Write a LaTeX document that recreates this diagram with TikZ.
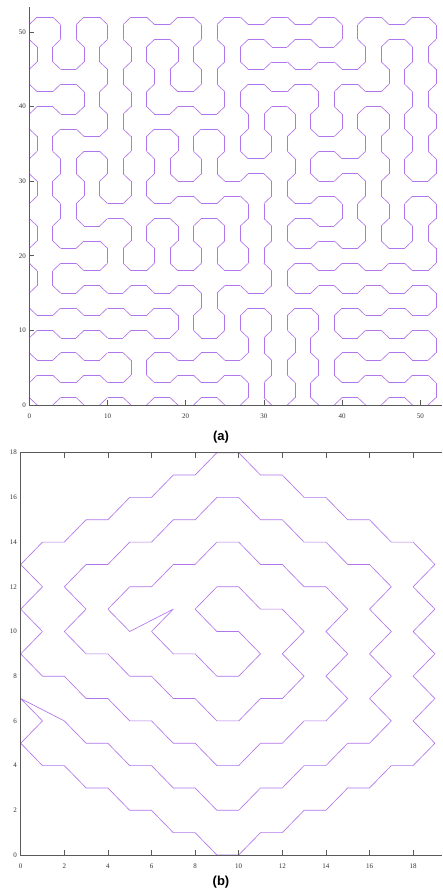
\documentclass[tikz,border=0pt]{standalone}
\usepackage{fontspec}
\setmainfont{Liberation Serif}
\newfontfamily\labfont{Liberation Sans}
\definecolor{curve}{RGB}{178,118,236}
\definecolor{axisc}{RGB}{90,90,90}
\begin{document}
\begin{tikzpicture}[x=1pt,y=-1pt,
  curvest/.style={draw=curve, line width=0.65pt, line join=round},
  axisline/.style={draw=axisc, line width=0.8pt},
  ticklab/.style={font=\fontsize{7}{7}\selectfont, text=black!80, inner sep=0pt},
  panellab/.style={font=\labfont\bfseries\fontsize{13}{13}\selectfont, inner sep=0pt}]
\useasboundingbox (0,0) rectangle (442,894);
\fill[white] (0,0) rectangle (442,894);

% ---------------- plot (a) ----------------
\begin{scope}[xshift=29.3pt, yshift=-405pt, x=7.82pt, y=7.46pt]
 % one diagonal per cell
 \foreach \i in {0,...,17}{\foreach \j in {0,...,17}{
   \pgfmathtruncatemacro\p{mod(\i+\j,2)}
   \ifnum\p=0 \draw[curvest] (3*\i,3*\j+1) -- (3*\i+1,3*\j);
   \else \draw[curvest] (3*\i,3*\j) -- (3*\i+1,3*\j+1); \fi
 }}
 % horizontal links (i,j)-(i+1,j), listed per row j
 \foreach \j/\L in {17/{0,2,4,5,6,8,9,10,11,12,14,15,16},
   16/{5,9,10,11,12,15},
   15/{1,9,10,11,12,13},
   14/{0,1,6,9,10,11,13,14},
   13/{0,1,5,6,7,10,14},
   12/{1,2,5,7,12},
   11/{2,9,12,13},
   10/{6,8,9,12,13,16},
   9/{3,5,6,7,8,11,12,16},
   8/{2,3,5,7,11,12},
   7/{1,2,11,12,13,15},
   6/{1,2,4,6,8,11,12,13,14,15,16},
   5/{1,2,3,4,5,6,8,9,11,12,13,14,15,16},
   4/{0,1,2,3,4,5,9,11,13,14,15,16},
   3/{0,1,2,3,4,5,7,13,14,15,16},
   2/{0,1,2,3,5,6,7,8,13,14,15,16},
   1/{0,1,2,3,5,6,7,8,13,14,15,16},
   0/{1,3,5,7,13,15}}{
   \foreach \i in \L {
     \pgfmathtruncatemacro\p{mod(\i+\j,2)}
     \draw[curvest] (3*\i+1,3*\j+\p) -- (3*\i+3,3*\j+\p);
   }
 }
 % vertical links (i,j)-(i,j+1), listed per j
 \foreach \j/\L in {16/{1,2,3,4,7,8,13,14,17},
   15/{0,1,2,3,4,5,6,7,8,9,14,15,16,17},
   14/{3,4,5,6,7,8,15,16,17},
   13/{2,3,4,5,8,9,12,13,16,17},
   12/{3,4,9,10,11,12,13,14,15,16,17},
   11/{0,1,4,5,6,7,8,9,10,11,14,15,16,17},
   10/{1,2,3,4,5,6,7,8,11,12,15,16,17},
   9/{0,1,2,3,4,5,10,11,14,15},
   8/{1,2,9,10,13,14,15,16,17},
   7/{0,1,4,5,6,7,8,9,10,11,14,15,16,17},
   6/{3,4,5,6,7,8,9,10,17},
   5/{0,1,10,11},
   4/{7,8,17},
   3/{6,7,8,9,10,11,12,13},
   2/{9,10,11,12,17},
   1/{4,5,10,11,12,13},
   0/{9,10,11,12,17}}{
   \foreach \i in \L {
     \pgfmathtruncatemacro\p{mod(\i+\j,2)}
     \draw[curvest] (3*\i+\p,3*\j+1) -- (3*\i+\p,3*\j+3);
   }
 }
\end{scope}
% axes (a)
\draw[axisline] (29.3,7) -- (29.3,405) -- (442,405);
\foreach \v in {10,20,30,40,50}{
  \draw[axisline] ({29.3+7.82*\v},405) -- ({29.3+7.82*\v},400);
  \draw[axisline] (29.3,{405-7.46*\v}) -- (34,{405-7.46*\v});
}
\foreach \v in {0,10,20,30,40,50}{
  \node[ticklab] (ax\v) at ({29.3+7.82*\v},416) {\v};
  \node[ticklab, anchor=east] (ay\v) at (26,{405-7.46*\v}) {\v};
}
\node[panellab] (la) at (221,437) {(a)};

% ---------------- plot (b) ----------------
\begin{scope}[xshift=20.7pt, yshift=-855pt, x=21.8pt, y=22.35pt]
 \draw[curvest] (7,11) -- (6,10) -- (7,9) -- (8,9) -- (9,8) -- (10,8) -- (11,9) -- (10,10) -- (9,10) -- (8,11)
  -- (9,12) -- (10,12) -- (11,11) -- (12,11) -- (13,10) -- (12,9) -- (13,8) -- (12,7) -- (11,7) -- (10,6)
  -- (9,6) -- (8,7) -- (7,7) -- (6,8) -- (5,8) -- (4,9) -- (3,9) -- (2,10) -- (3,11) -- (2,12)
  -- (3,13) -- (4,13) -- (5,14) -- (6,14) -- (7,15) -- (8,15) -- (9,16) -- (10,16) -- (11,15) -- (12,15)
  -- (13,14) -- (14,14) -- (15,13) -- (16,13) -- (17,12) -- (16,11) -- (17,10) -- (16,9) -- (17,8) -- (16,7)
  -- (17,6) -- (16,5) -- (15,5) -- (14,4) -- (13,4) -- (12,3) -- (11,3) -- (10,2) -- (9,2) -- (8,3)
  -- (7,3) -- (6,4) -- (5,4) -- (4,5) -- (3,5) -- (2,6) -- (0,7) -- (1,6) -- (0,5) -- (1,4)
  -- (2,4) -- (3,3) -- (4,3) -- (5,2) -- (6,2) -- (7,1) -- (8,1) -- (9,0) -- (10,0) -- (11,1)
  -- (12,1) -- (13,2) -- (14,2) -- (15,3) -- (16,3) -- (17,4) -- (18,4) -- (19,5) -- (18,6) -- (19,7)
  -- (18,8) -- (19,9) -- (18,10) -- (19,11) -- (18,12) -- (19,13) -- (18,14) -- (17,14) -- (16,15) -- (15,15)
  -- (14,16) -- (13,16) -- (12,17) -- (11,17) -- (10,18) -- (9,18) -- (8,17) -- (7,17) -- (6,16) -- (5,16)
  -- (4,15) -- (3,15) -- (2,14) -- (1,14) -- (0,13) -- (1,12) -- (0,11) -- (1,10) -- (0,9) -- (1,8)
  -- (2,8) -- (3,7) -- (4,7) -- (5,6) -- (6,6) -- (7,5) -- (8,5) -- (9,4) -- (10,4) -- (11,5)
  -- (12,5) -- (13,6) -- (14,6) -- (15,7) -- (14,8) -- (15,9) -- (14,10) -- (15,11) -- (14,12) -- (13,12)
  -- (12,13) -- (11,13) -- (10,14) -- (9,14) -- (8,13) -- (7,13) -- (6,12) -- (5,12) -- (4,11) -- (5,10)
  -- cycle;
\end{scope}
% axes (b)
\draw[axisline] (442,452.7) -- (20.7,452.7) -- (20.7,855) -- (442,855);
\foreach \v in {2,4,...,18}{
  \draw[axisline] ({20.7+21.8*\v},855) -- ({20.7+21.8*\v},850);
  \draw[axisline] ({20.7+21.8*\v},452.7) -- ({20.7+21.8*\v},457.7);
}
\foreach \v in {0,2,...,18}{
  \node[ticklab] (bx\v) at ({20.7+21.8*\v},866) {\v};
  \node[ticklab, anchor=east] (by\v) at (17,{855-22.35*\v}) {\v};
}
\node[panellab] (lb) at (221,882) {(b)};
\end{tikzpicture}
\end{document}
